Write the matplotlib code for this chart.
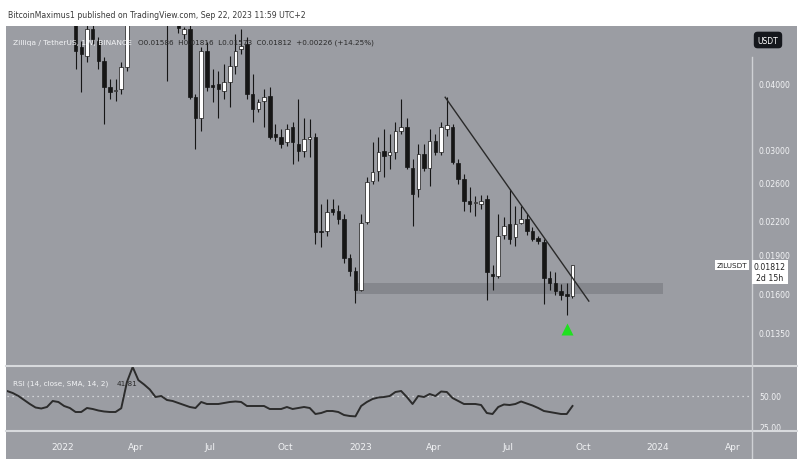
import numpy as np
import pandas as pd
import matplotlib
matplotlib.use('Agg')
import matplotlib.pyplot as plt
from matplotlib.patches import Rectangle
from matplotlib.lines import Line2D
from matplotlib.ticker import NullLocator

plt.rcParams['font.family'] = ['DejaVu Sans']

# weekly ZIL/USDT candles, 17 Jan 2022 .. 18 Sep 2023
weeks = pd.date_range('2022-01-17', '2023-09-18', freq='W-MON')
opens = [0.0540, 0.0468, 0.0450, 0.0506, 0.0480, 0.0440, 0.0393, 0.0386, 0.0390, 0.0428,
         0.0680, 0.0900, 0.1200, 0.0850, 0.0700, 0.0620, 0.0580, 0.0530,
         0.0532, 0.0495, 0.0506, 0.0376, 0.0344, 0.0460, 0.0397, 0.0398, 0.0386, 0.0402,
         0.0430, 0.0464, 0.0474, 0.0381, 0.0357, 0.0370, 0.0378, 0.0321, 0.0317, 0.0309,
         0.0330, 0.0307, 0.0297, 0.0314, 0.0316, 0.0210, 0.0210, 0.0231, 0.0229, 0.0221,
         0.0187, 0.0177, 0.0163, 0.0219, 0.0261, 0.0273, 0.0297, 0.0293, 0.0296, 0.0324,
         0.0330, 0.0277, 0.0252, 0.0294, 0.0277, 0.0311, 0.0296, 0.0328, 0.0331, 0.0282,
         0.0264, 0.0239, 0.0237, 0.0236, 0.0242, 0.0174, 0.0173, 0.0207, 0.0217, 0.0205,
         0.0218, 0.0221, 0.0210, 0.0204, 0.0200, 0.0171, 0.0168, 0.0162, 0.0159, 0.01586]
highs = [0.0570, 0.0480, 0.0540, 0.0530, 0.0489, 0.0448, 0.0407, 0.0407, 0.0438, 0.0750,
         0.1100, 0.2000, 0.1300, 0.0900, 0.0740, 0.0650, 0.0600, 0.0580,
         0.0560, 0.0510, 0.0517, 0.0381, 0.0468, 0.0478, 0.0425, 0.0421, 0.0434, 0.0450,
         0.0495, 0.0506, 0.0489, 0.0416, 0.0373, 0.0390, 0.0393, 0.0335, 0.0327, 0.0335,
         0.0338, 0.0373, 0.0344, 0.0342, 0.0322, 0.0236, 0.0242, 0.0242, 0.0235, 0.0226,
         0.0190, 0.0180, 0.0226, 0.0266, 0.0309, 0.0317, 0.0327, 0.0320, 0.0337, 0.0373,
         0.0344, 0.0287, 0.0307, 0.0307, 0.0327, 0.0320, 0.0338, 0.0376, 0.0335, 0.0287,
         0.0269, 0.0254, 0.0245, 0.0246, 0.0246, 0.0181, 0.0226, 0.0223, 0.0252, 0.0234,
         0.0234, 0.0226, 0.0214, 0.0206, 0.0203, 0.0177, 0.0176, 0.0167, 0.0168, 0.01816]
lows = [0.0425, 0.0385, 0.0438, 0.0474, 0.0425, 0.0335, 0.0373, 0.0370, 0.0381, 0.0421,
        0.0650, 0.0850, 0.0800, 0.0680, 0.0600, 0.0550, 0.0404, 0.0520,
        0.0498, 0.0484, 0.0373, 0.0300, 0.0324, 0.0386, 0.0368, 0.0344, 0.0373, 0.0361,
        0.0416, 0.0454, 0.0373, 0.0338, 0.0353, 0.0331, 0.0314, 0.0311, 0.0302, 0.0304,
        0.0281, 0.0285, 0.0290, 0.0290, 0.0199, 0.0196, 0.0206, 0.0225, 0.0217, 0.0183,
        0.0173, 0.0154, 0.0162, 0.0217, 0.0258, 0.0261, 0.0266, 0.0275, 0.0287, 0.0320,
        0.0275, 0.0215, 0.0244, 0.0273, 0.0256, 0.0293, 0.0293, 0.0318, 0.0281, 0.0258,
        0.0229, 0.0228, 0.0224, 0.0231, 0.0156, 0.0163, 0.0171, 0.0203, 0.0199, 0.0197,
        0.0217, 0.0207, 0.0201, 0.0199, 0.0153, 0.0163, 0.0159, 0.0156, 0.0146, 0.01573]
closes = [0.0460, 0.0454, 0.0506, 0.0484, 0.0440, 0.0393, 0.0384, 0.0388, 0.0428, 0.0680,
          0.0900, 0.1200, 0.0850, 0.0700, 0.0620, 0.0580, 0.0530, 0.0535,
          0.0508, 0.0506, 0.0376, 0.0344, 0.0460, 0.0393, 0.0393, 0.0390, 0.0402, 0.0430,
          0.0460, 0.0470, 0.0381, 0.0357, 0.0368, 0.0376, 0.0317, 0.0316, 0.0307, 0.0327,
          0.0309, 0.0297, 0.0314, 0.0316, 0.0209, 0.0209, 0.0228, 0.0228, 0.0221, 0.0187,
          0.0177, 0.0163, 0.0218, 0.0260, 0.0272, 0.0296, 0.0291, 0.0296, 0.0324, 0.0330,
          0.0278, 0.0247, 0.0294, 0.0277, 0.0311, 0.0296, 0.0330, 0.0333, 0.0284, 0.0264,
          0.0239, 0.0236, 0.0238, 0.0239, 0.0176, 0.0173, 0.0206, 0.0215, 0.0203, 0.0217,
          0.0221, 0.0210, 0.0203, 0.0201, 0.0171, 0.0168, 0.0162, 0.0159, 0.01586, 0.01812]

# RSI(14) weekly, 25 Oct 2021 .. 18 Sep 2023
rsi_weeks = pd.date_range('2021-10-25', '2023-09-18', freq='W-MON')
rsi = [53.8, 52.2, 49.8, 46.6, 43.4, 40.6, 39.8, 41.0, 45.8, 45.0,
       41.8, 40.2, 37.0, 37.0, 40.2, 39.4, 38.2, 37.4, 37.0, 37.0,
       40.0, 61.0, 73.0, 62.5, 59.0, 55.0, 49.0, 49.8, 46.6, 45.8,
       44.2, 42.6, 41.0, 40.2, 45.0, 43.4, 43.4, 43.4, 44.2, 45.0,
       45.4, 45.0, 41.8, 41.8, 41.8, 41.8, 39.4, 39.4, 39.4, 41.0,
       39.4, 40.2, 41.0, 40.2, 35.4, 36.2, 37.8, 37.8, 37.0, 34.6,
       33.8, 33.5, 41.8, 45.0, 47.4, 48.6, 49.0, 49.8, 53.0, 53.8,
       49.0, 43.4, 49.8, 49.0, 51.4, 49.8, 53.4, 53.0, 48.2, 45.8,
       43.4, 43.4, 43.4, 42.6, 36.2, 35.4, 41.0, 43.0, 42.6, 43.4,
       45.4, 43.8, 42.2, 40.2, 37.8, 37.0, 36.2, 35.4, 35.4, 41.81]

price_ticks = [0.04, 0.03, 0.026, 0.022, 0.019, 0.016, 0.0135]
rsi_ticks = [50, 25]
month_ticks = pd.to_datetime(['2022-01-01', '2022-04-01', '2022-07-01', '2022-10-01',
                              '2023-01-01', '2023-04-01', '2023-07-01', '2023-10-01',
                              '2024-01-01', '2024-04-01'])
month_labels = ['2022', 'Apr', 'Jul', 'Oct', '2023', 'Apr', 'Jul', 'Oct', '2024', 'Apr']

GREY = '#9b9da3'
INK = '#161616'
LIGHT = '#f2f3f5'

W, H = 800, 460


def box(x0, y0, x1, y1):
    return [x0 / W, 1 - y1 / H, (x1 - x0) / W, (y1 - y0) / H]


def fx(x):
    return x / W


def fy(y):
    return 1 - y / H


fig = plt.figure(figsize=(8, 4.6), dpi=100, facecolor='white')
fig.add_artist(Rectangle((fx(6), 0), fx(797) - fx(6), fy(27), transform=fig.transFigure,
                         facecolor=GREY, edgecolor='none', zorder=-2))

ax = fig.add_axes(box(7, 27, 752, 366), facecolor=GREY)
ax2 = fig.add_axes(box(7, 367, 752, 431), facecolor=GREY, sharex=ax)

o = np.array(opens)
c = np.array(closes)
hi = np.array(highs)
lo = np.array(lows)
up = c >= o
body_lo = np.minimum(o, c)
body_h = np.maximum(np.abs(c - o), 0.006 * o)

ax.vlines(weeks, lo, hi, colors=INK, lw=0.8, zorder=3)
ax.bar(weeks, body_h, bottom=body_lo, width=4.3,
       color=np.where(up, 'white', INK), edgecolor=INK, linewidth=0.5, zorder=4)

# support zone and falling trendline
ax.fill_between(pd.to_datetime(['2022-12-27', '2024-01-07']), 0.0160, 0.0168,
                color='#85878d', lw=0, zorder=1)
ax.plot(pd.to_datetime(['2023-04-15', '2023-10-08']), [0.0376, 0.0155],
        color='#2a2a2a', lw=1.0, zorder=5)
ax.plot(pd.Timestamp('2023-09-11'), 0.0137, marker='^', color='#20e020', ms=8,
        mec='none', zorder=6)

ax.set_yscale('log')
ax.set_ylim(0.01174, 0.05125)
ax.set_xlim(pd.Timestamp('2021-10-25'), pd.Timestamp('2024-04-25'))
ax.yaxis.tick_right()
ax.set_yticks(price_ticks)
ax.set_yticklabels(['%.5f' % v for v in price_ticks])
ax.yaxis.set_minor_locator(NullLocator())
ax.tick_params(axis='y', length=0, pad=5, labelsize=5.6, labelcolor=LIGHT)
ax.tick_params(axis='x', length=0, labelbottom=False)

ax2.plot(rsi_weeks, rsi, color='#2c2c2c', lw=1.4, zorder=3)
ax2.axhline(50, color='#e4e5e8', lw=0.9, ls=(0, (1, 3)), zorder=2)
ax2.set_ylim(22.6, 73.8)
ax2.yaxis.tick_right()
ax2.set_yticks(rsi_ticks)
ax2.set_yticklabels(['%.2f' % v for v in rsi_ticks])
ax2.tick_params(axis='y', length=0, pad=5, labelsize=5.6, labelcolor=LIGHT)
ax2.set_xticks(month_ticks)
ax2.set_xticklabels(month_labels)
ax2.tick_params(axis='x', length=0, pad=9, labelsize=6.5, labelcolor=LIGHT)

for a in (ax, ax2):
    for s in a.spines.values():
        s.set_visible(False)

# pane separators and price-scale border
for yy in (366.5, 431.5):
    fig.add_artist(Line2D([fx(6), fx(797)], [fy(yy), fy(yy)], transform=fig.transFigure,
                          color='#d8dadd', lw=1.5))
fig.add_artist(Line2D([fx(752), fx(752)], [fy(58), fy(460)], transform=fig.transFigure,
                      color='#cfd1d5', lw=1.0))

fig.text(fx(8), fy(15), 'BitcoinMaximus1 published on TradingView.com, Sep 22, 2023 11:59 UTC+2',
         fontsize=5.6, color='#3a3a3a', va='center')
fig.text(fx(13), fy(43), 'Zilliqa / TetherUS, 1W, BINANCE', fontsize=5.4, color=LIGHT, va='center')
fig.text(fx(138), fy(43), 'O0.01586  H0.01816  L0.01573  C0.01812  +0.00226 (+14.25%)',
         fontsize=5.2, color='#2a2a2a', va='center')
fig.text(fx(13), fy(384), 'RSI (14, close, SMA, 14, 2)', fontsize=5.2, color=LIGHT, va='center')
fig.text(fx(117), fy(384), '41.81', fontsize=5.2, color='#2a2a2a', va='center')

fig.text(fx(768), fy(41), 'USDT', ha='center', va='center', fontsize=5.5, color='white',
         bbox=dict(boxstyle='round,pad=0.5', fc='#15171c', ec='none'))
fig.text(fx(732), fy(266), 'ZILUSDT', ha='center', va='center', fontsize=5.2, color='#222222',
         bbox=dict(boxstyle='square,pad=0.3', fc='white', ec='none'))
fig.text(fx(770), fy(273), '0.01812\n2d 15h', ha='center', va='center', fontsize=5.6,
         color='#222222', linespacing=1.3,
         bbox=dict(boxstyle='square,pad=0.3', fc='white', ec='none'))

fig.savefig('out.png', dpi=100, facecolor=fig.get_facecolor())
